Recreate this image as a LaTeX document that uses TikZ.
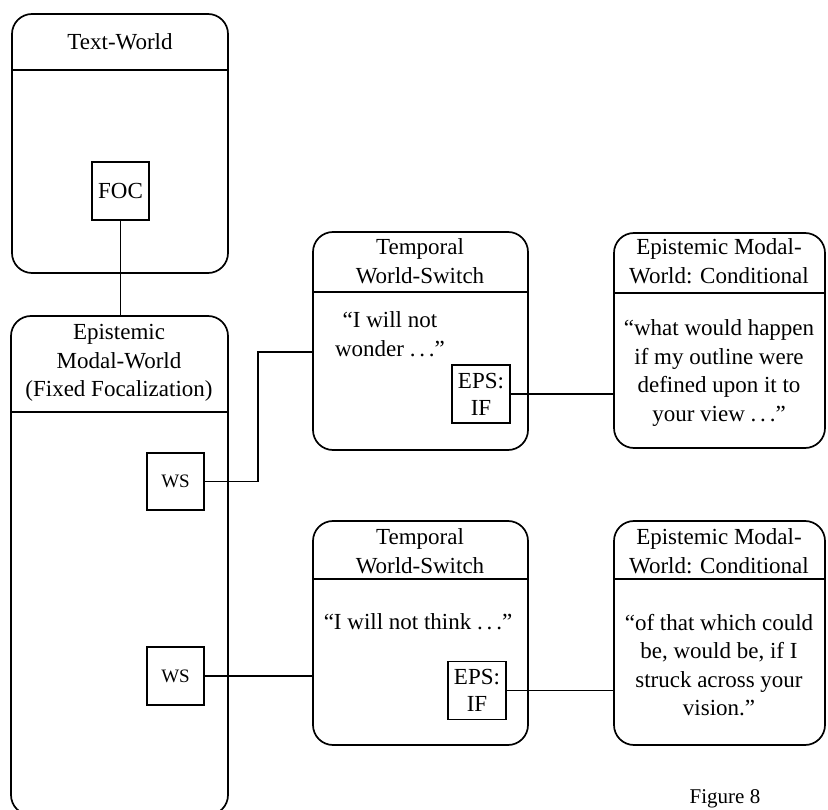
\documentclass[tikz,border=0pt]{standalone}
\usepackage{fontspec}
\setmainfont{Liberation Serif}
\begin{document}
\begin{tikzpicture}[x=1pt,y=-1pt,
  world/.style={draw, line width=1.7pt, rounded corners=20pt, inner sep=0pt, outer sep=0pt},
  hdr/.style={line width=1.7pt},
  subbox/.style={draw, line width=1.5pt, inner sep=0pt, outer sep=0pt, align=center,
    font=\fontsize{23}{27}\selectfont},
  link/.style={line width=1.5pt},
  txt/.style={align=center, inner sep=0pt, font=\fontsize{23}{28.5}\selectfont}]
\useasboundingbox (0,0) rectangle (828,810);

% world boxes
\node[world, minimum width=216pt, minimum height=259pt, anchor=north west] (tw) at (12,14) {};
\node[world, minimum width=217pt, minimum height=499pt, anchor=north west] (ew) at (11,316) {};
\node[world, minimum width=215pt, minimum height=218pt, anchor=north west] (t1) at (313,232) {};
\node[world, minimum width=211pt, minimum height=215pt, anchor=north west] (c1) at (614,233) {};
\node[world, minimum width=215pt, minimum height=224pt, anchor=north west] (t2) at (313,521) {};
\node[world, minimum width=211pt, minimum height=224pt, anchor=north west] (c2) at (614,521) {};

% header rules
\draw[hdr] (tw.west |- 0,70) -- (tw.east |- 0,70);
\draw[hdr] (ew.west |- 0,412) -- (ew.east |- 0,412);
\draw[hdr] (t1.west |- 0,292) -- (t1.east |- 0,292);
\draw[hdr] (c1.west |- 0,293) -- (c1.east |- 0,293);
\draw[hdr] (t2.west |- 0,579) -- (t2.east |- 0,579);
\draw[hdr] (c2.west |- 0,579) -- (c2.east |- 0,579);

% headings
\node[txt] (twh) at (120,42) {Text-World};
\node[txt] (ewh) at (119,363) {Epistemic\\Modal-World\\(Fixed Focalization)};
\node[txt] (t1h) at (420,261) {Temporal\\World-Switch};
\node[txt] (c1h) at (719,261) {Epistemic Modal-\\World: Conditional};
\node[txt] (t2h) at (420,551) {Temporal\\World-Switch};
\node[txt] (c2h) at (719,551) {Epistemic Modal-\\World: Conditional};

% quoted text
\node[txt] (t1b) at (390,334) {“I will not\\wonder .\,.\,.”};
\node[txt] (c1b) at (719,373) {“what would happen\\if my outline were\\defined upon it to\\your view .\,.\,.”};
\node[txt] (t2b) at (418,622) {“I will not think .\,.\,.”};
\node[txt] (c2b) at (719,665) {“of that which could\\be, would be, if I\\struck across your\\vision.”};

% small boxes
\node[subbox, minimum width=57pt, minimum height=58pt] (foc) at (120.5,191) {FOC};
\node[subbox, minimum width=57pt, minimum height=57pt, font=\fontsize{19}{22}\selectfont] (ws1) at (175.5,481.5) {WS};
\node[subbox, minimum width=57pt, minimum height=58pt, font=\fontsize{19}{22}\selectfont] (ws2) at (175.5,676) {WS};
\node[subbox, minimum width=58pt, minimum height=58pt] (eps1) at (481,394) {EPS:\\IF};
\node[subbox, minimum width=58pt, minimum height=58pt] (eps2) at (477,690.5) {EPS:\\IF};

% connectors
\coordinate (k1) at (258,352);
\draw[link] (foc.south) -- (foc.south |- ew.north);
\draw[link] (ws1.east) -| (k1) -- (k1 -| t1.west);
\draw[link] (ws2.east) -- (ws2.east -| t2.west);
\draw[link] (eps1.east) -- (eps1.east -| c1.west);
\draw[link] (eps2.east) -- (eps2.east -| c2.west);

% caption
\node[txt, font=\fontsize{21}{25}\selectfont] (cap) at (725,799) {Figure 8};
\end{tikzpicture}
\end{document}
